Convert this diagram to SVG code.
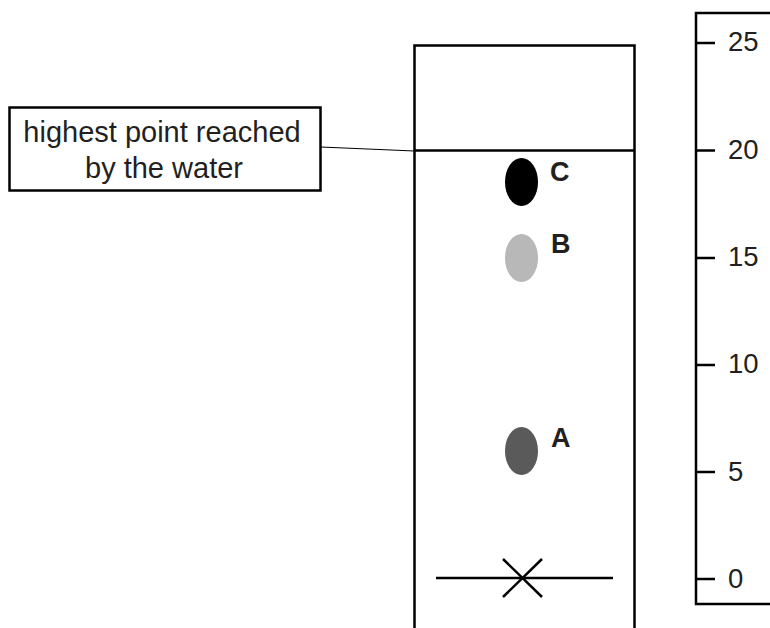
<svg xmlns="http://www.w3.org/2000/svg" width="770" height="628" viewBox="0 0 770 628">
<style>
.ln{stroke:#000;fill:none;stroke-width:2.5}
.thin{stroke:#000;fill:none;stroke-width:1.2}
.lbl{font-family:"Liberation Sans",Arial,sans-serif;font-size:29px;fill:#231f20}
.num{font-family:"Liberation Sans",Arial,sans-serif;font-size:27.5px;fill:#231f20}
.spot{font-family:"Liberation Sans",Arial,sans-serif;font-size:27px;font-weight:bold;fill:#231f20}
</style>
<rect width="770" height="628" fill="#fff"/>
<g id="paper">
<path class="ln" d="M414.5,628 V45.5 H634.5 V628"/>
<line class="ln" x1="414.5" y1="150.5" x2="634.5" y2="150.5"/>
</g>
<g id="label-box">
<rect class="ln" x="9.5" y="107.5" width="311" height="83"/>
<text class="lbl" x="162" y="141.5" text-anchor="middle">highest point reached</text>
<text class="lbl" x="164" y="177.5" text-anchor="middle">by the water</text>
</g>
<g id="spot-C">
<ellipse cx="521.5" cy="182" rx="16.5" ry="24" fill="#000"/>
<text class="spot" x="550" y="181">C</text>
</g>
<g id="spot-B">
<ellipse cx="521.5" cy="258" rx="16.5" ry="24" fill="#b8b8b8"/>
<text class="spot" x="551" y="253">B</text>
</g>
<g id="spot-A">
<ellipse cx="521.5" cy="451" rx="16.5" ry="24" fill="#5a5a5a"/>
<text class="spot" x="551" y="447">A</text>
</g>
<g id="origin">
<line class="ln" x1="436" y1="578" x2="613" y2="578"/>
<line class="ln" x1="503" y1="559" x2="542" y2="597"/>
<line class="ln" x1="503" y1="597" x2="542" y2="559"/>
</g>
<g id="ruler">
<path class="ln" d="M770,13 H696 V604 H770"/>
<line class="ln" x1="696" y1="43" x2="715" y2="43"/>
<line class="ln" x1="696" y1="150.5" x2="715" y2="150.5"/>
<line class="ln" x1="696" y1="258" x2="715" y2="258"/>
<line class="ln" x1="696" y1="365" x2="715" y2="365"/>
<line class="ln" x1="696" y1="472" x2="715" y2="472"/>
<line class="ln" x1="696" y1="579" x2="715" y2="579"/>
<text class="num" x="728" y="51">25</text>
<text class="num" x="728" y="159">20</text>
<text class="num" x="728" y="266">15</text>
<text class="num" x="728" y="373">10</text>
<text class="num" x="728" y="481">5</text>
<text class="num" x="728" y="588">0</text>
</g>
<g id="connectors">
<line class="thin" x1="320.5" y1="147" x2="414.5" y2="151"/>
</g>
</svg>
